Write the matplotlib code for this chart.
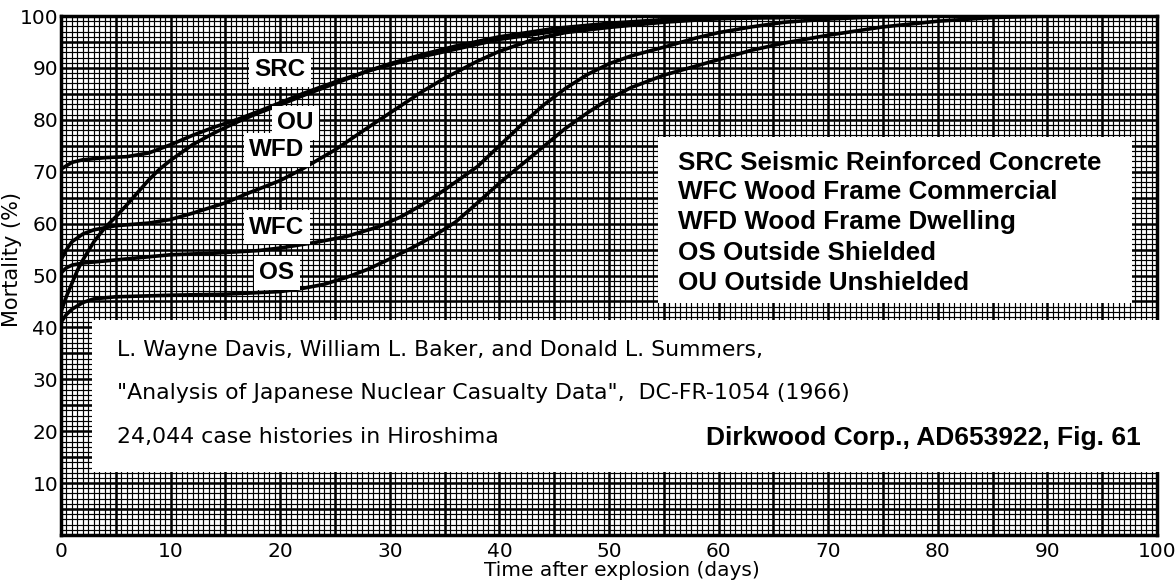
import matplotlib
matplotlib.use("Agg")
import matplotlib.pyplot as plt
from matplotlib.patches import Rectangle
from matplotlib.ticker import MultipleLocator

# ---- data (days after explosion, mortality %) ----
src_days = [0, 1, 2, 4, 6, 8, 10, 12, 14, 16, 18, 20, 22, 25, 28, 30, 33, 36, 40, 45, 50, 55, 60, 70, 80, 100]
src_mort = [70.5, 71.8, 72.3, 72.7, 72.9, 73.6, 75.2, 77.0, 78.6, 80.0, 81.6, 83.3, 85.0, 87.3, 89.4, 90.6, 92.2, 93.6, 95.5, 97.0, 98.2, 99.0, 99.5, 99.8, 100, 100]

ou_days = [0, 0.5, 1, 1.5, 2, 3, 4, 5, 6, 7, 8, 9, 10, 12, 14, 16, 18, 20, 22, 25, 28, 30, 33, 36, 40, 45, 50, 55, 60, 70, 100]
ou_mort = [43.0, 46.0, 48.5, 51.0, 53.0, 56.5, 59.2, 61.3, 63.6, 66.0, 68.4, 70.5, 72.2, 75.2, 77.5, 79.5, 81.3, 82.9, 84.6, 87.0, 89.4, 90.8, 92.6, 94.2, 96.0, 97.6, 98.6, 99.3, 99.7, 100, 100]

wfd_days = [0, 0.5, 1, 2, 3, 5, 8, 10, 12, 15, 17, 20, 22, 25, 28, 30, 33, 35, 38, 40, 43, 46, 50, 55, 60, 65, 70, 100]
wfd_mort = [53.0, 55.0, 56.5, 58.0, 58.8, 59.6, 60.1, 60.8, 62.0, 64.0, 65.8, 68.3, 70.5, 74.2, 78.5, 81.3, 85.5, 88.0, 91.3, 93.2, 95.4, 96.8, 97.8, 98.8, 99.5, 99.9, 100, 100]

wfc_days = [0, 0.5, 1, 2, 5, 8, 10, 14, 18, 20, 23, 26, 29, 31, 33, 35, 38, 40, 42, 44, 46, 48, 50, 52, 55, 58, 60, 63, 66, 70, 75, 80, 100]
wfc_mort = [50.5, 51.5, 52.0, 52.4, 53.0, 53.6, 54.0, 54.3, 54.8, 55.3, 56.3, 57.5, 59.4, 61.3, 63.7, 66.5, 71.0, 75.0, 79.0, 82.8, 86.0, 88.7, 90.8, 92.3, 94.0, 95.8, 96.8, 97.9, 98.8, 99.4, 99.9, 100, 100]

os_days = [0, 0.5, 1, 2, 3, 5, 10, 15, 20, 22, 24, 26, 28, 30, 32, 34, 36, 38, 40, 42, 44, 46, 48, 50, 52, 55, 58, 60, 63, 66, 70, 75, 80, 85, 90, 100]
os_mort = [41.0, 42.5, 43.5, 44.8, 45.5, 45.9, 46.2, 46.4, 46.9, 47.5, 48.3, 49.6, 51.2, 53.2, 55.3, 57.6, 60.3, 64.0, 67.8, 71.3, 74.8, 78.3, 81.3, 84.0, 86.2, 88.6, 90.4, 91.6, 93.4, 94.8, 96.3, 97.9, 99.0, 99.7, 100, 100]

series_days = [src_days, ou_days, wfd_days, wfc_days, os_days]
series_mort = [src_mort, ou_mort, wfd_mort, wfc_mort, os_mort]

curve_labels = ["SRC", "OU", "WFD", "WFC", "OS"]
curve_label_x = [20.0, 21.4, 19.7, 19.7, 19.7]
curve_label_y = [89.6, 79.4, 74.2, 59.3, 50.5]

legend_lines = ["SRC Seismic Reinforced Concrete",
                "WFC Wood Frame Commercial",
                "WFD Wood Frame Dwelling",
                "OS Outside Shielded",
                "OU Outside Unshielded"]

citation_lines = ["L. Wayne Davis, William L. Baker, and Donald L. Summers,",
                  "\"Analysis of Japanese Nuclear Casualty Data\",  DC-FR-1054 (1966)",
                  "24,044 case histories in Hiroshima"]
source_note = "Dirkwood Corp., AD653922, Fig. 61"

x_ticks = list(range(0, 101, 10))
y_ticks = list(range(10, 101, 10))

# ---- figure ----
W, H = 1176, 582
fig = plt.figure(figsize=(W / 100, H / 100), dpi=100)
ax = fig.add_axes([61 / W, 1 - 535 / H, (1157 - 61) / W, (535 - 16) / H])
ax.set_xlim(0, 100)
ax.set_ylim(0, 100)

geo = "DejaVu Sans"
bold_sans = "Liberation Sans"

# grid (graph paper)
ax.xaxis.set_minor_locator(MultipleLocator(0.5))
ax.yaxis.set_minor_locator(MultipleLocator(1))
ax.grid(which="minor", color="black", linewidth=0.85, zorder=0)
ax.grid(which="major", color="black", linewidth=1.8, zorder=0)
ax.set_axisbelow(True)

ax.set_xticks(x_ticks)
ax.set_yticks(y_ticks)
# heavier gridlines at the 5s as well
for v in range(5, 100, 10):
    ax.axvline(v, color="black", linewidth=1.8, zorder=0.5)
    ax.axhline(v, color="black", linewidth=1.8, zorder=0.5)

ax.tick_params(which="both", length=0)
ax.tick_params(axis="x", pad=5)
ax.tick_params(axis="y", pad=2)
for lab in ax.get_xticklabels() + ax.get_yticklabels():
    lab.set_fontfamily(geo)
    lab.set_fontsize(14.5)

for s in ax.spines.values():
    s.set_linewidth(2.5)
    s.set_color("black")

# curves
for d, m in zip(series_days, series_mort):
    ax.plot(d, m, color="black", linewidth=2.6, solid_capstyle="round", zorder=3)

# curve labels
for t, x, y in zip(curve_labels, curve_label_x, curve_label_y):
    ax.text(x, y, t, ha="center", va="center", fontsize=17.5, fontweight="bold",
            family=bold_sans, zorder=5,
            bbox=dict(boxstyle="square,pad=0.22", facecolor="white", edgecolor="none"))

# legend box
ax.add_patch(Rectangle((54.5, 44.7), 43.2, 32.0, facecolor="white", edgecolor="none", zorder=4))
leg_y = [71.7, 66.1, 60.3, 54.3, 48.6]
for t, y in zip(legend_lines, leg_y):
    ax.text(56.3, y, t, ha="left", va="center", fontsize=18.7, fontweight="bold",
            family=bold_sans, zorder=5)

# citation box (extends past right edge)
ax.add_patch(Rectangle((2.8, 12.1), 102, 29.3, facecolor="white", edgecolor="none",
                       zorder=4, clip_on=False))
cit_y = [35.6, 27.4, 18.9]
for t, y in zip(citation_lines, cit_y):
    ax.text(5.1, y, t, ha="left", va="center", fontsize=15.8, family=geo,
            zorder=5)
ax.text(98.5, 18.7, source_note, ha="right", va="center", fontsize=19,
        fontweight="bold", family=bold_sans, zorder=5)

ax.set_xlabel("Time after explosion (days)", fontsize=14.5, family=geo)
ax.xaxis.set_label_coords(0.512, -0.051)
ax.set_ylabel("Mortality (%)", fontsize=15, family=geo)
ax.yaxis.set_label_coords(-0.036, 0.53)

fig.savefig("out.png", dpi=100)
